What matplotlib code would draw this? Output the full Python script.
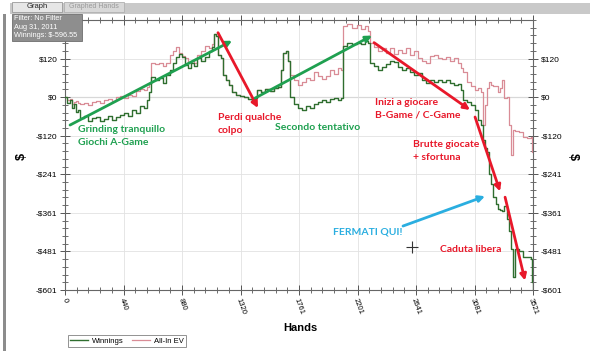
import numpy as np
import matplotlib
matplotlib.use("Agg")
import matplotlib.pyplot as plt
from matplotlib.patches import Rectangle
from matplotlib.ticker import MultipleLocator

# hands played at each change point
hands = [0, 15, 38, 53, 68, 83, 98, 113, 143, 173, 203, 233, 263, 293, 324, 354,
         384, 414, 444, 474, 504, 534, 564, 594, 617, 632, 647, 677, 707, 737, 760,
         790, 813, 835, 858, 880, 903, 925, 948, 971, 993, 1023, 1053, 1083, 1106,
         1121, 1136, 1151, 1174, 1189, 1211, 1234, 1257, 1287, 1317, 1347, 1377,
         1407, 1430, 1445, 1475, 1505, 1542, 1572, 1603, 1625, 1640, 1663, 1678,
         1693, 1723, 1753, 1783, 1813, 1843, 1873, 1904, 1934, 1964, 1994, 2024,
         2054, 2077, 2092, 2122, 2159, 2197, 2227, 2257, 2280, 2295, 2325, 2355,
         2385, 2415, 2445, 2475, 2505, 2536, 2566, 2596, 2626, 2656, 2686, 2716,
         2746, 2776, 2806, 2837, 2867, 2897, 2927, 2957, 2980, 2995, 3025, 3055,
         3085, 3107, 3130, 3145, 3160, 3175, 3190, 3205, 3220, 3243, 3258, 3273,
         3288, 3303, 3326, 3341, 3356, 3371, 3386, 3416, 3446, 3476, 3506, 3514, 3521]

winnings = [0, -19, -9, -34, -22, -46, -40, -65, -59, -74, -65, -62, -74, -68, -59, -71,
            -62, -56, -49, -59, -40, -49, -28, -34, -9, 15, 62, 53, 59, 43, 68,
            84, 108, 124, 136, 124, 99, 90, 105, 96, 121, 114, 124, 145, 155,
            198, 192, 130, 121, 68, 53, 37, 15, 6, 3, 0, -6,
            -9, -3, 22, 15, 25, 19, 28, 31, 84, 139, 145, 114,
            0, -22, -34, -40, -28, -34, -22, -15, -9, -15, -6, -3,
            -9, -3, 161, 170, 167, 170, 167, 176, 170, 105, 96, 84,
            93, 102, 114, 111, 93, 84, 90, 77, 68, 74, 53, 43,
            53, 46, 53, 46, 53, 43, 37, 40, 22, -9, -15, -25,
            -40, -71, -87, -133, -158, -170, -241, -272, -312, -334, -350, -353,
            -356, -340, -380, -418, -473, -560, -473, -479, -498, -498, -504, -575, -597]

allin_ev = [0, -9, -6, -22, -15, -12, -19, -22, -19, -25, -15, -12, -19, -9, -6, -12,
            0, 3, -3, 6, 3, 19, 25, 22, 31, 40, 108, 102, 105, 96, 108,
            130, 145, 155, 139, 127, 121, 108, 114, 105, 130, 145, 161, 152, 167,
            198, 192, 130, 121, 68, 53, 37, 15, 6, 3, 0, -6,
            -9, -3, 22, 15, 25, 19, 28, 31, 84, 139, 145, 114,
            68, 53, 37, 46, 59, 53, 77, 65, 56, 65, 84, 71,
            90, 84, 223, 229, 217, 226, 213, 223, 207, 170, 155, 145,
            152, 139, 152, 136, 148, 139, 152, 130, 145, 121, 114, 105,
            127, 130, 121, 118, 124, 114, 121, 108, 90, 77, 46, 34,
            22, 28, 15, -87, -25, 28, 46, 37, 34, 34, 15, 28,
            53, -3, 0, -87, -179, -102, -105, -108, -124, -127, -124, -170, -164]

x_ticks = [0, 440.125, 880.25, 1320.375, 1760.5, 2200.625, 2640.75, 3080.875, 3521]
x_labels = ["0", "440", "880", "1320", "1761", "2201", "2641", "3081", "3521"]
y_ticks = [120.3, 0, -120.3, -240.6, -360.9, -481.2, -601.5]
y_labels = ["$120", "$0", "-$120", "-$241", "-$361", "-$481", "-$601"]

GREEN = "#1fa050"
RED = "#e8182a"
CYAN = "#2aaee0"
W, H = 590, 355


def fx(px):
    return px / W


def fy(py):
    return 1 - py / H


fig = plt.figure(figsize=(W / 100, H / 100), dpi=100)
fig.patch.set_facecolor("white")

# window chrome: tab bar, left frame, filter box
fig.add_artist(Rectangle((fx(10), fy(14)), fx(580), 11 / H, transform=fig.transFigure,
                         facecolor="#c9c9c9", edgecolor="none"))
fig.add_artist(Rectangle((fx(12), fy(12)), fx(50), 10 / H, transform=fig.transFigure,
                         facecolor="#e6e6e6", edgecolor="#9a9a9a", lw=0.6))
fig.add_artist(Rectangle((fx(64), fy(12)), fx(60), 10 / H, transform=fig.transFigure,
                         facecolor="#d8d8d8", edgecolor="#b0b0b0", lw=0.6))
fig.text(fx(37), fy(7), "Graph", fontsize=5.5, family="Liberation Sans",
         ha="center", va="center", color="#222222")
fig.text(fx(94), fy(7), "Graphed Hands", fontsize=5, family="Liberation Sans",
         ha="center", va="center", color="#9a9a9a")
fig.add_artist(Rectangle((fx(3), 0.01), fx(3), fy(14) - 0.01, transform=fig.transFigure,
                         facecolor="#8c8c8c", edgecolor="none"))
fig.add_artist(Rectangle((fx(12), fy(41)), fx(70), 27 / H, transform=fig.transFigure,
                         facecolor="#8e8e8e", edgecolor="#6e6e6e", lw=0.6, zorder=5))
for i, line in enumerate(["Filter: No Filter", "Aug 31, 2011", "Winnings: $-596.55"]):
    fig.text(fx(14), fy(19 + i * 8.3), line, fontsize=5.3, family="Liberation Sans",
             color="white", va="center", zorder=6)

ax = fig.add_axes([fx(65), fy(290), fx(533) - fx(65), fy(20) - fy(290)])
ax.set_xlim(0, 3521)
ax.set_ylim(-601.5, 240.6)

ax.grid(which="major", color="#e2e2e2", lw=0.6)
ax.axhline(0, color="#a8a8a8", lw=0.8, zorder=1)

ax.plot(hands, allin_ev, drawstyle="steps-post", color="#d98c96", lw=0.9,
        label="All-In EV", zorder=2)
ax.plot(hands, winnings, drawstyle="steps-post", color="#2f6e2f", lw=1.0,
        label="Winnings", zorder=3)

ax.set_xticks(x_ticks)
ax.set_xticklabels(x_labels, rotation=-70, fontsize=5.5, family="Liberation Sans")
ax.set_yticks(y_ticks)
ax.set_yticklabels(y_labels, fontsize=6, family="Liberation Sans")
ax.xaxis.set_minor_locator(MultipleLocator(3521 / 40))
ax.yaxis.set_minor_locator(MultipleLocator(120.3 / 5))
ax.tick_params(which="major", direction="inout", length=7, width=0.7, color="#555555",
               top=True, right=True, labelright=True, pad=2)
ax.tick_params(which="minor", direction="inout", length=4, width=0.6, color="#555555",
               top=True, right=True)
for s in ax.spines.values():
    s.set_color("#666666")
    s.set_linewidth(0.8)

fig.text(fx(300), fy(328), "Hands", fontsize=8, weight="bold", family="Liberation Sans",
         ha="center", va="center")
fig.text(fx(22), fy(156), "$", fontsize=9, weight="bold", family="Liberation Sans",
         rotation=90, ha="center", va="center")
fig.text(fx(573), fy(156), "$", fontsize=9, weight="bold", family="Liberation Sans",
         rotation=-90, ha="center", va="center")

handles, labels = ax.get_legend_handles_labels()
leg = fig.legend(handles[::-1], labels[::-1], loc="lower left",
                 bbox_to_anchor=(fx(64), fy(351)), ncol=2,
                 frameon=True, fancybox=False, handlelength=2.4, columnspacing=1.0,
                 borderpad=0.3, handletextpad=0.5, prop={"family": "Liberation Sans", "size": 5.5})
leg.get_frame().set_edgecolor("#777777")
leg.get_frame().set_linewidth(0.7)

# annotations drawn over the chart
arrows = [
    ((38, -87), (1257, 176), GREEN),
    ((1151, 201), (1452, -34), RED),
    ((1430, -3), (2310, 192), GREEN),
    ((2325, 170), (3047, -40), RED),
    ((3085, -62), (3273, -294), RED),
    ((3311, -312), (3461, -572), RED),
    ((2543, -402), (3160, -309), CYAN),
]
for start, end, col in arrows:
    ax.annotate("", xy=end, xytext=start,
                arrowprops=dict(arrowstyle="-|>", color=col, lw=2, mutation_scale=9,
                                shrinkA=0, shrinkB=0), zorder=6)

notes = [
    (98, -121, "Grinding tranquillo\nGiochi A-Game", GREEN),
    (1151, -85, "Perdi qualche\ncolpo", RED),
    (1580, -96, "Secondo tentativo", GREEN),
    (2332, -37, "Inizi a giocare\nB-Game / C-Game", RED),
    (2618, -167, "Brutte giocate\n+ sfortuna", RED),
    (2016, -421, "FERMATI QUI!", CYAN),
    (2821, -476, "Caduta libera", RED),
]
for x, y, txt, col in notes:
    ax.text(x, y, txt, color=col, fontsize=7.5, weight="bold", family="Lato",
            ha="left", va="center", linespacing=1.55, zorder=7)

ax.plot([2611], [-467], marker="+", color="#333333", markersize=9, mew=0.8, zorder=7)

fig.savefig("out.png", dpi=100)
